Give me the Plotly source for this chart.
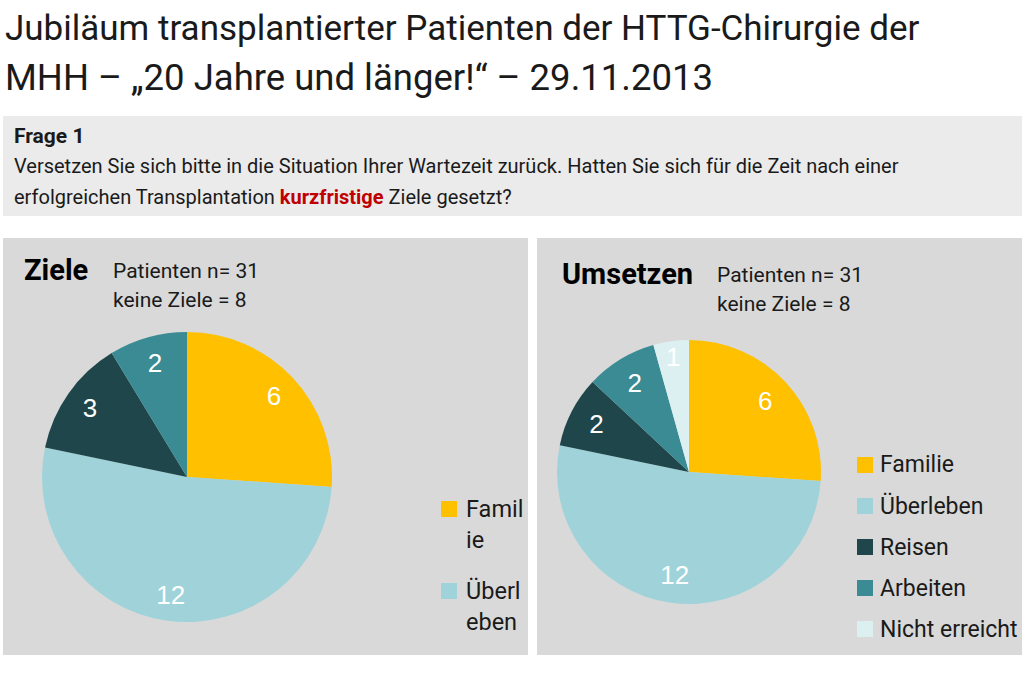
import plotly.graph_objects as go

# data
labels_ziele = ["Familie", "Überleben", "Reisen", "Arbeiten"]
values_ziele = [6, 12, 3, 2]
labels_umsetzen = ["Familie", "Überleben", "Reisen", "Arbeiten", "Nicht erreicht"]
values_umsetzen = [6, 12, 2, 2, 1]
colors = ["#FFC000", "#9FD3D9", "#1F474B", "#3A8B93", "#DCF0F2"]
legend_ziele = ["Famil<br>ie", "Überl<br>eben"]   # truncated legend as in the original

W, H = 1024, 678
FONT = "Roboto, Liberation Sans, sans-serif"
PX = lambda x: x / W
PY = lambda y: 1 - y / H

fig = go.Figure()

def add_pie(labels, values, dom, hole):
    # coloured slices
    fig.add_trace(go.Pie(
        labels=labels, values=values, sort=False, direction="clockwise",
        marker=dict(colors=colors[:len(values)], line=dict(width=0)),
        textinfo="none", domain=dom, showlegend=False,
    ))
    # transparent ring on top, only to place the value labels near the rim
    fig.add_trace(go.Pie(
        labels=labels, values=values, sort=False, direction="clockwise", hole=hole,
        marker=dict(colors=["rgba(0,0,0,0)"] * len(values), line=dict(width=0)),
        textinfo="value", textposition="inside", insidetextorientation="horizontal",
        textfont=dict(color="white", size=26, family="Liberation Sans, Arial"),
        domain=dom, showlegend=False, hoverinfo="skip",
    ))

add_pie(labels_ziele, values_ziele, dict(x=[PX(42), PX(332)], y=[PY(622), PY(332)]), 0.64)
add_pie(labels_umsetzen, values_umsetzen, dict(x=[PX(557), PX(821)], y=[PY(604), PY(340)]), 0.58)

shapes = [
    dict(type="rect", xref="paper", yref="paper", x0=PX(3), x1=PX(1022), y0=PY(216), y1=PY(116),
         fillcolor="#EBEBEB", line=dict(width=0), layer="below"),
    dict(type="rect", xref="paper", yref="paper", x0=PX(3), x1=PX(528), y0=PY(655), y1=PY(238),
         fillcolor="#D9D9D9", line=dict(width=0), layer="below"),
    dict(type="rect", xref="paper", yref="paper", x0=PX(537), x1=PX(1022), y0=PY(655), y1=PY(238),
         fillcolor="#D9D9D9", line=dict(width=0), layer="below"),
]

ann = []
def txt(x, y, s, size, color="#1a1a1a", yanchor="middle"):
    ann.append(dict(x=PX(x), y=PY(y), xref="paper", yref="paper", text=s, showarrow=False,
                    xanchor="left", yanchor=yanchor, align="left",
                    font=dict(size=size, color=color, family=FONT)))

txt(3, 28, "Jubiläum transplantierter Patienten der HTTG-Chirurgie der", 35)
txt(3, 78, "MHH – „20 Jahre und länger!“ – 29.11.2013", 36.5)
txt(12, 136, "<b>Frage 1</b>", 21)
txt(12, 166, "Versetzen Sie sich bitte in die Situation Ihrer Wartezeit zurück. Hatten Sie sich für die Zeit nach einer", 20)
txt(12, 197, "erfolgreichen Transplantation <b><span style='color:#C00000'>kurzfristige</span></b> Ziele gesetzt?", 20)

txt(22, 270, "<b>Ziele</b>", 29, "black")
txt(111, 271, "Patienten n= 31", 21)
txt(111, 300, "keine Ziele = 8", 21)
txt(560, 274, "<b>Umsetzen</b>", 29, "black")
txt(715, 275, "Patienten n= 31", 21)
txt(715, 304, "keine Ziele = 8", 21)

# legends
for i, lab in enumerate(legend_ziele):
    yc = 509 + i * 82
    shapes.append(dict(type="rect", xref="paper", yref="paper", x0=PX(441), x1=PX(457),
                       y0=PY(yc + 8), y1=PY(yc - 8), fillcolor=colors[i], line=dict(width=0)))
    txt(464, yc - 16, lab, 23.5, yanchor="top")
for i, lab in enumerate(labels_umsetzen):
    yc = 465 + i * 41
    shapes.append(dict(type="rect", xref="paper", yref="paper", x0=PX(857), x1=PX(873),
                       y0=PY(yc + 8), y1=PY(yc - 8), fillcolor=colors[i], line=dict(width=0)))
    txt(878, yc, lab, 23)

fig.update_layout(
    width=W, height=H, margin=dict(l=0, r=0, t=0, b=0),
    paper_bgcolor="white", plot_bgcolor="white",
    shapes=shapes, annotations=ann,
    uniformtext=dict(minsize=26, mode="show"),
)

fig.write_html("out.html", config={"displayModeBar": False},
               post_script="document.body.style.margin='0';")
